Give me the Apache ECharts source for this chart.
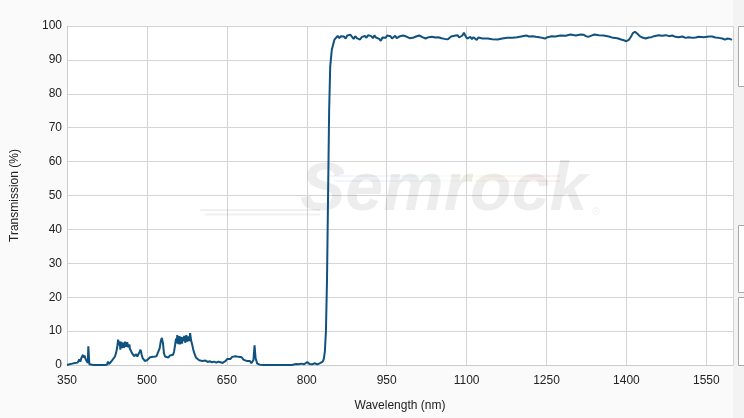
<!DOCTYPE html>
<html>
<head>
<meta charset="utf-8">
<script src="https://cdn.jsdelivr.net/npm/echarts@6/dist/echarts.min.js"></script>
<style>
html,body{margin:0;padding:0;background:#fafafa;}
#chart{width:744px;height:418px;}
</style>
</head>
<body>
<div id="chart"></div>
<script>
// Wavelength (nm)
const wavelengths = [
350,355,360,363,365,367,368,370,371,373,374,375,376,377,378,379,380,381,382,383,384,385,386,387,388,389,390,391,392,395,400,410,420,425,427,429,431,434,437,440,442,444,445,446,447,448,449,450,451,452,453,454,455,456,457,458,459,460,461,462,463,464,465,466,467,468,470,472,474,476,478,480,482,484,486,488,490,492,494,496,498,500,503,506,509,512,515,518,521,524,526,528,530,532,534,537,540,543,546,549,551,553,554,555,556,557,558,559,560,561,562,563,564,565,566,567,568,569,570,571,572,573,574,575,576,577,578,579,580,581,582,583,585,587,589,592,595,598,601,604,607,610,614,618,622,626,630,634,638,642,645,648,651,654,657,660,663,666,669,672,675,678,681,684,687,690,693,696,698,700,702,704,707,712,720,740,760,772,775,780,785,790,795,798,801,805,810,815,820,824,827,830,832,834,836,838,840,842,844,847,850,
852,855,858,861,864,867,870,873,876,879,882,885,888,891,894,897,900,903,906,909,912,915,918,921,924,927,930,933,936,939,942,945,948,951,954,957,960,963,966,969,972,975,978,981,984,987,990,993,996,999,1002,1005,1008,1011,1014,1017,1020,1023,1026,1029,1032,1035,1038,1041,1044,1047,1050,1053,1056,1059,1062,1065,1068,1071,1074,1077,1080,1083,1086,1089,1092,1095,1098,1101,1104,1107,1110,1113,1116,1119,1122,
1130,1140,1148,1158,1167,1176,1186,1195,1205,1212,1217,1224,1230,1236,1242,1247,1252,1260,1267,1276,1286,1295,1305,1314,1320,1324,1328,1333,1340,1348,1357,1367,1375,1383,1390,1395,1400,1405,1409,1412,1416,1420,1425,1430,1436,1442,1447,1452,1460,1467,1474,1480,1486,1492,1498,1505,1511,1517,1524,1530,1536,1545,1555,1561,1567,1573,1580,1585,1590,1594,1598
];
// Transmission (%)
const transmission = [
0,0.2,0.4,0.9,0.6,1.1,1.2,0.7,0.9,1.6,1.8,1.0,1.4,2.1,2.4,1.6,3.0,2.2,1.8,2.8,2.6,1.7,1.5,2.0,1.2,0.6,5.5,5.4,0.2,0,0,0,0,0.1,1.0,0.3,0.6,1.2,1.5,2.5,3.5,5.0,6.2,7.5,5.8,6.0,7.0,4.5,5.9,6.8,5.0,5.2,6.6,6.5,5.1,5.5,6.9,6.8,5.4,5.8,6.7,6.9,5.2,5.6,6.1,4.8,4.2,3.5,3.0,2.6,2.8,3.2,2.5,3.0,3.8,4.5,3.2,2.0,1.5,1.2,1.0,1.4,1.8,2.3,2.0,2.4,2.2,2.6,3.0,5.0,7.0,8.0,6.5,3.5,2.5,2.0,2.2,2.8,3.2,3.0,4.0,6.0,7.2,7.8,6.4,8.8,7.0,6.2,7.9,8.5,6.1,6.5,8.3,7.5,6.3,8.2,7.1,6.8,8.6,8.5,6.6,7.2,8.8,8.6,6.9,7.0,8.4,8.0,7.1,9.4,9.8,7.2,6.0,4.5,3.5,2.2,2.0,1.4,1.6,1.2,1.0,1.3,0.9,1.1,0.8,1.0,0.7,1.0,0.8,0.6,0.9,1.2,1.8,2.2,1.8,2.4,2.0,2.6,2.2,2.4,1.9,2.3,1.6,1.8,1.2,1.0,1.2,0.5,0.4,1.5,5.8,2.0,0.4,0.1,0,0,0,0,0,0.3,0.2,0.4,0.2,0.5,0.9,0.3,0.2,0.5,0.2,0.5,0.8,1.0,1.8,4,10,25,50,75,88,93,94.8,96.0,
96.5,97.1,96.4,97.0,96.6,96.9,96.3,97.2,96.7,97.4,96.8,96.2,97.0,96.4,96.9,96.0,96.7,96.3,97.1,96.5,97.3,96.8,97.0,96.4,97.2,96.6,96.9,96.2,95.6,96.6,97.1,96.5,97.2,96.7,97.0,96.3,96.6,97.1,96.4,96.8,97.0,96.5,97.2,96.7,96.9,97.1,96.4,96.9,96.5,96.3,96.9,96.6,97.2,97.4,96.7,96.9,96.3,96.2,96.7,96.4,96.8,96.5,96.6,96.3,96.7,96.5,96.4,96.8,96.2,96.5,96.1,96.6,96.9,96.4,97.1,96.7,97.3,96.6,96.9,97.2,98.0,97.0,96.3,95.9,96.8,96.1,96.7,96.9,95.9,96.6,96.3,
96.3,96.1,96.0,96.3,96.5,96.5,96.7,97.0,97.2,96.9,97.0,96.8,96.7,96.5,96.3,96.7,97.0,96.9,97.2,97.1,97.5,97.2,97.5,97.4,97.0,96.8,97.1,97.5,97.3,97.2,96.9,96.5,96.4,96.0,95.8,95.5,96.0,97.0,97.9,98.3,97.8,97.0,96.6,96.3,96.6,96.7,97.0,97.3,97.1,97.3,97.0,97.2,96.8,96.7,96.9,96.5,96.7,96.5,96.6,96.8,96.7,96.9,96.9,96.6,96.5,96.3,96.0,96.3,96.2,95.9,95.7
];
const xTicks = [350,500,650,800,950,1100,1250,1400,1550];
const yTicks = [0,10,20,30,40,50,60,70,80,90,100];

const chart = echarts.init(document.getElementById('chart'), null, {renderer:'canvas'});
const data = wavelengths.map((w,i)=>[w, transmission[i]]);
const font = 'Arial, "Liberation Sans", sans-serif';
const rainbow = () => new echarts.graphic.LinearGradient(0,0,1,0,[
  {offset:0,color:'rgba(120,140,255,0.10)'},{offset:0.35,color:'rgba(120,220,255,0.10)'},
  {offset:0.6,color:'rgba(240,240,120,0.13)'},{offset:1,color:'rgba(255,120,120,0.13)'}]);

chart.setOption({
  animation:false,
  backgroundColor:'#fafafa',
  grid:{left:67,right:11,top:26,bottom:53,show:true,backgroundColor:'#ffffff',borderWidth:0},
  xAxis:{
    type:'value', min:xTicks[0], max:1600, interval:150,
    name:'Wavelength (nm)', nameLocation:'middle', nameGap:35,
    nameTextStyle:{color:'#222',fontSize:12,fontFamily:font},
    axisLine:{show:true,lineStyle:{color:'#cccccc'}},
    axisTick:{show:false},
    axisLabel:{color:'#222',fontSize:12,fontFamily:font,margin:10,showMaxLabel:false,
      formatter:v=>xTicks.includes(v)?String(v):''},
    splitLine:{show:true,lineStyle:{color:'#d4d4d4'}}
  },
  yAxis:{
    type:'value', min:yTicks[0], max:yTicks[yTicks.length-1], interval:10,
    name:'Transmission (%)', nameLocation:'middle', nameGap:46, nameRotate:90,
    nameTextStyle:{color:'#222',fontSize:12,fontFamily:font},
    axisLine:{show:true,lineStyle:{color:'#cccccc'}},
    axisTick:{show:false},
    axisLabel:{color:'#222',fontSize:12,fontFamily:font,margin:5},
    splitLine:{show:true,lineStyle:{color:'#d4d4d4'}}
  },
  graphic:[
    {type:'rect',z:0,shape:{x:733,y:0,width:11,height:418},style:{fill:'#f3f3f3'}},
    {type:'rect',z:1,shape:{x:738.5,y:26.5,width:10,height:60},style:{fill:'#ffffff',stroke:'#a8a8a8',lineWidth:1}},
    {type:'rect',z:1,shape:{x:738.5,y:225.5,width:10,height:67},style:{fill:'#ffffff',stroke:'#a8a8a8',lineWidth:1}},
    {type:'rect',z:1,shape:{x:738.5,y:297.5,width:10,height:68},style:{fill:'#ffffff',stroke:'#a8a8a8',lineWidth:1}},
    {type:'line',z:1,silent:true,shape:{x1:200,y1:210,x2:320,y2:210},style:{stroke:'rgba(0,0,0,0.06)',lineWidth:2}},
    {type:'line',z:1,silent:true,shape:{x1:205,y1:214.5,x2:320,y2:214.5},style:{stroke:'rgba(0,0,0,0.06)',lineWidth:2}},
    {type:'line',z:1,silent:true,shape:{x1:330,y1:176,x2:560,y2:176},style:{lineWidth:2,stroke:rainbow()}},
    {type:'line',z:1,silent:true,shape:{x1:335,y1:181,x2:560,y2:181},style:{lineWidth:2,stroke:rainbow()}},
    {type:'text',z:1,silent:true,style:{text:'Semrock',x:300,y:225,fill:'rgba(0,0,0,0.07)',font:'italic bold 68px Arial, "Liberation Sans", sans-serif',textAlign:'left',textVerticalAlign:'bottom'}},
    {type:'text',z:1,silent:true,style:{text:'®',x:592,y:212,fill:'rgba(0,0,0,0.07)',font:'11px Arial, "Liberation Sans", sans-serif',textAlign:'left',textVerticalAlign:'middle'}}
  ],
  series:[{
    type:'line', data:data, showSymbol:false, smooth:false, z:3,
    lineStyle:{color:'#10527f',width:2},
    itemStyle:{color:'#10527f'}
  }]
});
</script>
</body>
</html>
